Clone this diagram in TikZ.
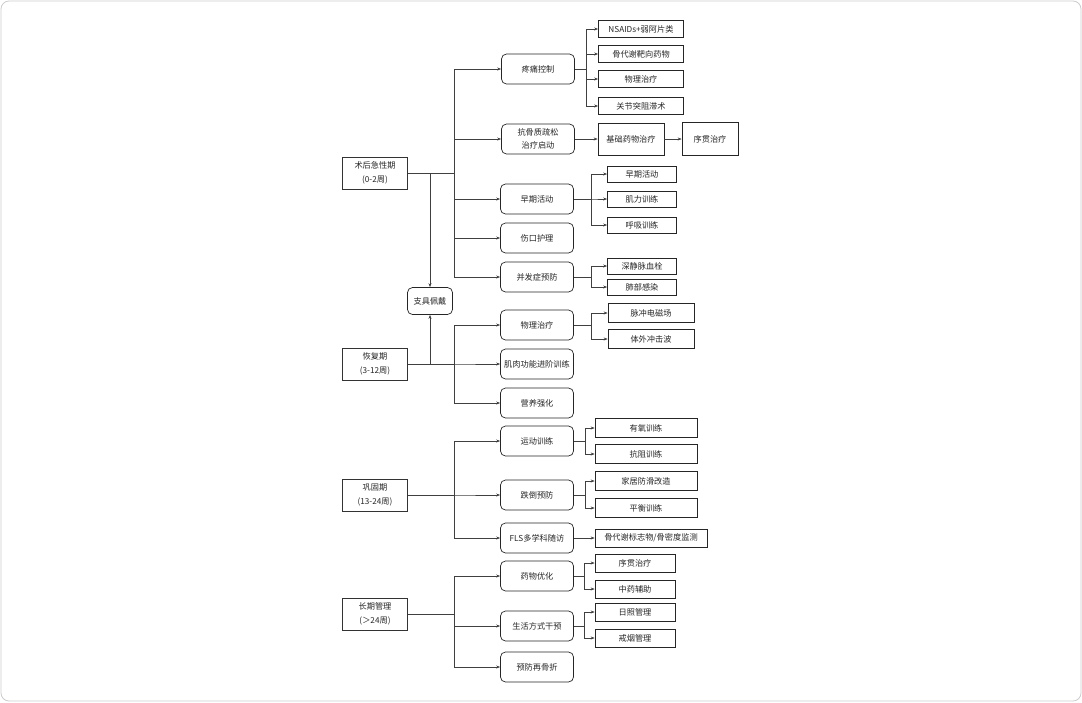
\documentclass[tikz,border=0pt]{standalone}
\usepackage{fontspec}
\setmainfont{Noto Sans CJK SC}
\usetikzlibrary{arrows.meta}
\begin{document}
\begin{tikzpicture}[x=1pt,y=-1pt,
  font=\fontsize{8.2}{14.5}\selectfont,
  phase/.style={draw=black!80, line width=0.7pt, minimum width=65pt, minimum height=32pt, align=center, inner sep=1pt, text=black!85},
  mid/.style={draw=black!85, line width=0.7pt, rounded corners=5pt, minimum width=73pt, minimum height=30pt, align=center, inner sep=1pt, text=black!85},
  leaf/.style={draw=black!85, line width=0.7pt, minimum height=17pt, inner sep=1pt, align=center, text=black!85},
  conn/.style={draw=black!75, line width=0.6pt},
  arr/.style={conn, -{Stealth[length=4pt,width=3pt]}}
]
\useasboundingbox (0,0) rectangle (1082,702);
\draw[black!20, line width=0.8pt, rounded corners=8pt, fill=white] (1,1) rectangle (1081,701);

% phases
\node[phase] (p1) at (375,173) {术后急性期\\(0-2周)};
\node[phase] (p2) at (375,364) {恢复期\\(3-12周)};
\node[phase] (p3) at (375,495) {巩固期\\(13-24周)};
\node[phase] (p4) at (375,614) {长期管理\\(＞24周)};
\node[mid, minimum width=45pt, minimum height=27pt] (brace) at (430,301) {支具佩戴};

% acute mid nodes
\node[mid] (a1) at (538,69) {疼痛控制};
\node[mid, font=\fontsize{8.2}{13}\selectfont] (a2) at (538,139) {抗骨质疏松\\治疗启动};
\node[mid] (a3) at (537,199) {早期活动};
\node[mid] (a4) at (537,238) {伤口护理};
\node[mid] (a5) at (537,277) {并发症预防};
% recovery
\node[mid] (r1) at (537,325) {物理治疗};
\node[mid] (r2) at (537,364) {肌肉功能进阶训练};
\node[mid] (r3) at (537,403) {营养强化};
% consolidation
\node[mid] (c1) at (537,441) {运动训练};
\node[mid] (c2) at (537,495) {跌倒预防};
\node[mid] (c3) at (537,538) {FLS多学科随访};
% long-term
\node[mid] (g1) at (537,576) {药物优化};
\node[mid] (g2) at (537,626) {生活方式干预};
\node[mid] (g3) at (537,667) {预防再骨折};

% leaves
\node[leaf, minimum width=85pt] (a11) at (641,29) {NSAIDs+弱阿片类};
\node[leaf, minimum width=85pt] (a12) at (641,54) {骨代谢靶向药物};
\node[leaf, minimum width=85pt] (a13) at (641,79) {物理治疗};
\node[leaf, minimum width=85pt] (a14) at (641,106) {关节突阻滞术};
\node[leaf, minimum width=66pt, minimum height=32pt] (a21) at (631,139) {基础药物治疗};
\node[leaf, minimum width=56pt, minimum height=33pt] (a22) at (710,139) {序贯治疗};
\node[leaf, minimum width=69pt, minimum height=16pt] (a31) at (642,174) {早期活动};
\node[leaf, minimum width=69pt, minimum height=16pt] (a32) at (642,199) {肌力训练};
\node[leaf, minimum width=69pt, minimum height=16pt] (a33) at (642,225) {呼吸训练};
\node[leaf, minimum width=69pt, minimum height=16pt] (a51) at (642,266) {深静脉血栓};
\node[leaf, minimum width=69pt, minimum height=16pt] (a52) at (642,287) {肺部感染};
\node[leaf, minimum width=86pt, minimum height=19pt] (r11) at (651,313) {脉冲电磁场};
\node[leaf, minimum width=86pt, minimum height=19pt] (r12) at (651,339) {体外冲击波};
\node[leaf, minimum width=102pt, minimum height=19pt] (c11) at (646,428) {有氧训练};
\node[leaf, minimum width=102pt, minimum height=19pt] (c12) at (646,454) {抗阻训练};
\node[leaf, minimum width=102pt, minimum height=19pt] (c21) at (646,481) {家居防滑改造};
\node[leaf, minimum width=102pt, minimum height=19pt] (c22) at (646,508) {平衡训练};
\node[leaf, minimum width=112pt, minimum height=18pt] (c31) at (651,538) {骨代谢标志物/骨密度监测};
\node[leaf, minimum width=80pt, minimum height=18pt] (g11) at (635,563) {序贯治疗};
\node[leaf, minimum width=80pt, minimum height=18pt] (g12) at (635,589) {中药辅助};
\node[leaf, minimum width=80pt, minimum height=18pt] (g21) at (635,612) {日照管理};
\node[leaf, minimum width=80pt, minimum height=18pt] (g22) at (635,638) {戒烟管理};

% phase -> mid
\foreach \m in {a1,a2,a3,a4,a5} \draw[arr] (p1.east) -- ++(46,0) |- (\m.west);
\foreach \m in {r1,r2,r3} \draw[arr] (p2.east) -- ++(46,0) |- (\m.west);
\foreach \m in {c1,c2,c3} \draw[arr] (p3.east) -- ++(46,0) |- (\m.west);
\foreach \m in {g1,g2,g3} \draw[arr] (p4.east) -- ++(46,0) |- (\m.west);
\draw[arr] (brace.north |- p1.east) -- (brace.north);
\draw[arr] (brace.south |- p2.east) -- (brace.south);

% mid -> leaves
\foreach \l in {a11,a12,a13,a14} \draw[arr] (a1.east) -- ++(11,0) |- (\l.west);
\draw[arr] (a2.east) -- (a21.west);
\draw[arr] (a21.east) -- (a22.west);
\foreach \l in {a31,a32,a33} \draw[arr] (a3.east) -- ++(17,0) |- (\l.west);
\foreach \l in {a51,a52} \draw[arr] (a5.east) -- ++(17,0) |- (\l.west);
\foreach \l in {r11,r12} \draw[arr] (r1.east) -- ++(17,0) |- (\l.west);
\foreach \l in {c11,c12} \draw[arr] (c1.east) -- ++(11,0) |- (\l.west);
\foreach \l in {c21,c22} \draw[arr] (c2.east) -- ++(11,0) |- (\l.west);
\draw[arr] (c3.east) -- (c31.west);
\foreach \l in {g11,g12} \draw[arr] (g1.east) -- ++(10,0) |- (\l.west);
\foreach \l in {g21,g22} \draw[arr] (g2.east) -- ++(10,0) |- (\l.west);
\end{tikzpicture}
\end{document}
